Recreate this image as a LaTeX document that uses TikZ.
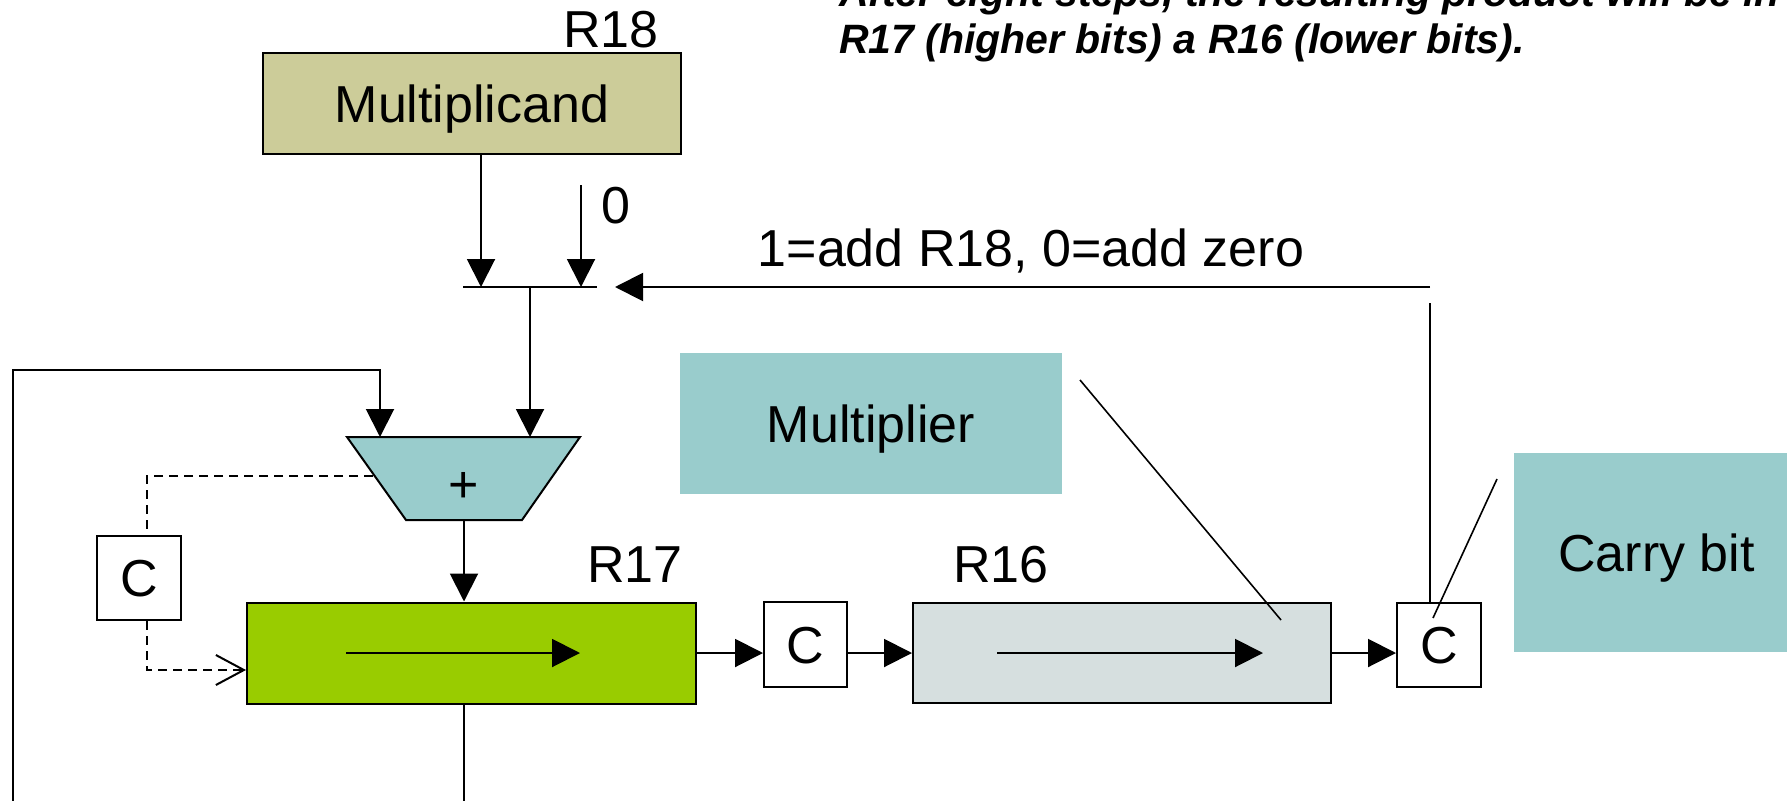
\documentclass[tikz,border=0pt]{standalone}
\usepackage{fontspec}
\setmainfont{Liberation Sans}
\usetikzlibrary{arrows.meta}
\definecolor{khaki}{HTML}{CCCC99}
\definecolor{tealbox}{HTML}{99CCCC}
\definecolor{greenreg}{HTML}{99CC00}
\definecolor{greyreg}{HTML}{D6DFDF}
\begin{document}
\begin{tikzpicture}[x=1pt,y=-1pt,line width=2pt,
  box/.style={draw,line width=2pt,inner sep=0pt,text height=37pt,text depth=0pt,font=\fontsize{52}{60}\selectfont},
  plainbox/.style={inner sep=0pt,text height=37pt,text depth=0pt,font=\fontsize{52}{60}\selectfont},
  lbl/.style={inner sep=0pt,font=\fontsize{52}{60}\selectfont},
  toptext/.style={inner sep=0pt,anchor=base west,font=\fontsize{41}{41}\selectfont\bfseries\itshape},
  arr/.style={-{Triangle[length=28pt,width=28pt]}},
  openarr/.style={-{Straight Barb[length=28pt,width=30pt]}},
  dashline/.style={dash pattern=on 9pt off 6pt},
  thin/.style={line width=1.6pt}]
\clip (0,0) rectangle (1787,800);

% top text
\node[toptext] (t1) at (838,7) {After eight steps, the resulting product will be in};
\node[toptext] (t2) at (838,53) {R17 (higher bits) a R16 (lower bits).};

% multiplicand
\node[box,fill=khaki,minimum width=418pt,minimum height=101pt] (mcand) at (472,103.5) {Multiplicand};
\node[lbl,anchor=base] (r18) at (611,48) {R18};

% mux bar
\coordinate (barL) at (463,287);
\coordinate (barR) at (597,287);
\coordinate (barC) at (530,287);
\coordinate (ma) at (481,287);
\coordinate (za) at (581,287);
\coordinate (zt) at (581,185);
\draw (barL) -- (barR);
\draw[arr] (ma |- mcand.south) -- (ma);
\draw[arr] (zt) -- (za);
\node[lbl,anchor=base] (zero) at (616,223) {0};

% adder
\coordinate (tTL) at (347,437);
\coordinate (tTR) at (580,437);
\coordinate (tBR) at (522,520);
\coordinate (tBL) at (406,520);
\draw[fill=tealbox] (tTL) -- (tTR) -- (tBR) -- (tBL) -- cycle;
\node[lbl] (plus) at (464,487) {+};
\draw[arr] (barC) -- (barC |- tTL);

% registers
\node[box,fill=greenreg,minimum width=449pt,minimum height=101pt] (r17) at (471.5,653) {};
\node[box,fill=greyreg,minimum width=418pt,minimum height=100pt] (r16) at (1122,653) {};
\node[lbl,anchor=base] (r17l) at (635,582) {R17};
\node[lbl,anchor=base] (r16l) at (1001,582) {R16};
\coordinate (a17s) at (346,653);
\coordinate (a17e) at (580,653);
\coordinate (a16s) at (997,653);
\coordinate (a16e) at (1263,653);
\draw[arr] (a17s) -- (a17e);
\draw[arr] (a16s) -- (a16e);

% adder to R17
\coordinate (ax) at (464,520);
\draw[arr] (ax) -- (ax |- r17.north);

% C boxes
\node[box,minimum width=84pt,minimum height=84pt] (cl) at (139,578) {C};
\node[box,minimum width=83pt,minimum height=85pt] (cm) at (805.5,644.5) {C};
\node[box,minimum width=84pt,minimum height=84pt] (cr) at (1439,645) {C};

\draw[arr] (r17.east) -- (cm.west |- r17.east);
\draw[arr] (cm.east |- r16.west) -- (r16.west);
\draw[arr] (r16.east) -- (cr.west |- r16.east);

% feedback from R17 bottom to adder
\coordinate (lfB) at (13,840);
\coordinate (lfT) at (13,370);
\coordinate (lfR) at (380,370);
\coordinate (lfE) at (380,437);
\draw[arr] (ax |- r17.south) -- (464,840) -- (lfB) -- (lfT) -- (lfR) -- (lfE);

% carry dashed loop
\coordinate (dA) at (373,476);
\coordinate (dX) at (147,476);
\coordinate (dY) at (147,670);
\draw[dashline] (dA) -- (dX) -- (dX |- cl.north);
\draw[dashline,openarr] (dX |- cl.south) -- (dY) -- (dY -| r17.west);

% multiplier and carry bit labels
\node[plainbox,fill=tealbox,minimum width=382pt,minimum height=141pt] (mult) at (871,423.5) {Multiplier};
\node[plainbox,fill=tealbox,minimum width=285pt,minimum height=199pt] (carry) at (1656.5,552.5) {Carry bit};
\coordinate (ml1) at (1080,380);
\coordinate (ml2) at (1281,620);
\draw[thin] (ml1) -- (ml2);
\coordinate (cb1) at (1497,479);
\coordinate (cb2) at (1433,618);
\draw[thin] (cb1) -- (cb2);

% control feedback
\coordinate (vx) at (1430,303);
\coordinate (fbs) at (1430,287);
\coordinate (fbe) at (615,287);
\draw (vx |- cr.north) -- (vx);
\draw[arr] (fbs) -- (fbe);
\node[lbl,anchor=base] (ctl) at (1031,266) {1=add R18, 0=add zero};
\end{tikzpicture}
\end{document}
